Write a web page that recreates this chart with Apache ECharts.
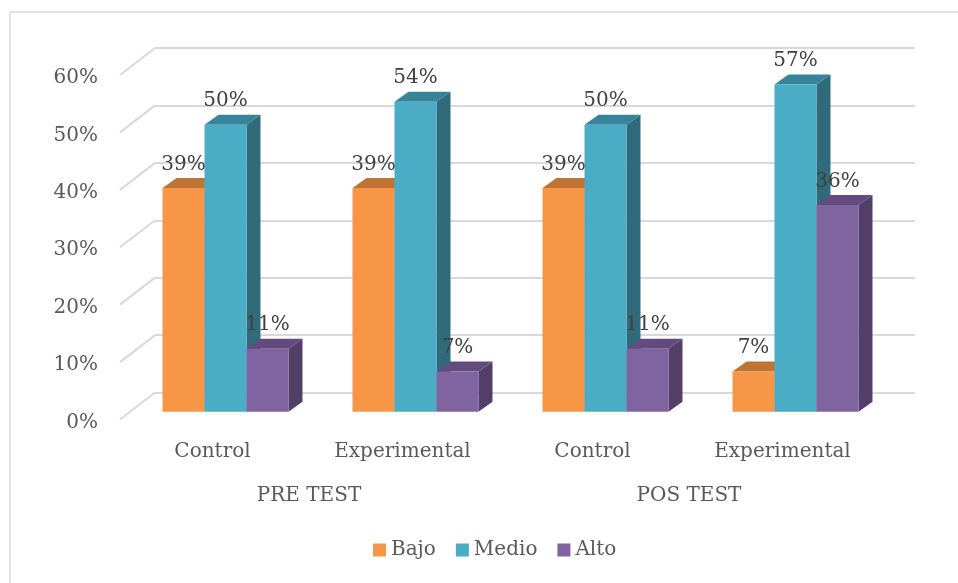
<!DOCTYPE html>
<html><head><meta charset="utf-8">
<script src="https://cdn.jsdelivr.net/npm/echarts@6/dist/echarts.min.js"></script>
<style>html,body{margin:0;padding:0;background:#fff}#chart{width:958px;height:583px}</style>
</head><body><div id="chart"></div>
<script>
// Groups, test phases and levels
const categories = ['Control', 'Experimental', 'Control', 'Experimental'];
const phases = ['PRE TEST', 'POS TEST'];
const levels = ['Bajo', 'Medio', 'Alto'];
// Share of students per level
const bajo = [0.39, 0.39, 0.39, 0.07];
const medio = [0.50, 0.54, 0.50, 0.57];
const alto = [0.11, 0.07, 0.11, 0.36];
const yTicks = [0, 0.1, 0.2, 0.3, 0.4, 0.5, 0.6];

const FONT = 'DejaVu Serif';
const faces = [
  { front: '#F79646', top: '#BE7434', side: '#A9622A' },
  { front: '#4BACC6', top: '#37849A', side: '#306B7B' },
  { front: '#8064A2', top: '#634B7F', side: '#523F68' }
];
// bars stand in front of the back wall; depth gives the 3D look
const FRONT_DX = -24.5, FRONT_DY = 19.3;
const DEPTH_DX = 14, DEPTH_DY = -10;
const FLOOR_DX = -35, FLOOR_DY = 27;
const BAR_RATIO = 0.221;

function pct(v) { return Math.round(v * 100) + '%'; }

function barGeom(api, cat, v, idx) {
  const band = api.size([1, 0])[0];
  const w = band * BAR_RATIO;
  const top = api.coord([cat, v]);
  const base = api.coord([cat, 0]);
  const x0 = top[0] + FRONT_DX - 1.5 * w + idx * w;
  return { x0: x0, w: w, yTop: top[1] + FRONT_DY, yBase: base[1] + FRONT_DY };
}

function makeBarRender(idx) {
  return function (params, api) {
    const cat = api.value(0), v = api.value(1);
    const g = barGeom(api, cat, v, idx);
    const c = faces[idx];
    const x1 = g.x0 + g.w;
    return {
      type: 'group',
      children: [
        { type: 'polygon', shape: { points: [[x1, g.yTop], [x1 + DEPTH_DX, g.yTop + DEPTH_DY], [x1 + DEPTH_DX, g.yBase + DEPTH_DY], [x1, g.yBase]] }, style: { fill: c.side } },
        { type: 'polygon', shape: { points: [[g.x0, g.yTop], [g.x0 + DEPTH_DX, g.yTop + DEPTH_DY], [x1 + DEPTH_DX, g.yTop + DEPTH_DY], [x1, g.yTop]] }, style: { fill: c.top } },
        { type: 'rect', shape: { x: g.x0, y: g.yTop, width: g.w, height: g.yBase - g.yTop }, style: { fill: c.front } }
      ]
    };
  };
}

const seriesValues = [bajo, medio, alto];

const barSeries = levels.map(function (name, idx) {
  return {
    name: name,
    type: 'custom',
    z: 3,
    itemStyle: { color: faces[idx].front },
    renderItem: makeBarRender(idx),
    data: seriesValues[idx].map(function (v, i) { return [i, v]; })
  };
});

// floor lines running from the back wall toward the viewer, with the
// percentage tick label at the front end of each line
const wallSeries = {
  name: 'wall',
  type: 'custom',
  z: 1,
  silent: true,
  renderItem: function (params, api) {
    const v = api.value(1);
    const p = api.coord([0, v]);
    const x = params.coordSys.x;
    return {
      type: 'group',
      children: [
        {
          type: 'line',
          shape: { x1: x, y1: p[1], x2: x + FLOOR_DX, y2: p[1] + FLOOR_DY },
          style: { stroke: '#d9d9d9', lineWidth: 2 }
        },
        {
          type: 'text',
          x: x + FLOOR_DX - 22,
          y: p[1] + FLOOR_DY + 3,
          style: {
            text: pct(v),
            font: '20px "' + FONT + '"',
            fill: '#595959',
            align: 'right', verticalAlign: 'middle',
            textAlign: 'right', textVerticalAlign: 'middle'
          }
        }
      ]
    };
  },
  data: yTicks.map(function (v) { return [0, v]; })
};

// value labels drawn above every bar
const labelData = [];
seriesValues.forEach(function (vals, idx) {
  vals.forEach(function (v, i) { labelData.push([i, v, idx]); });
});
const labelSeries = {
  name: 'labels',
  type: 'custom',
  z: 10,
  silent: true,
  renderItem: function (params, api) {
    const g = barGeom(api, api.value(0), api.value(1), api.value(2));
    return {
      type: 'text',
      x: g.x0 + g.w / 2,
      y: g.yTop - 23.5,
      style: {
        text: pct(api.value(1)),
        font: '20px "' + FONT + '"',
        fill: '#404040',
        align: 'center', verticalAlign: 'middle',
        textAlign: 'center', textVerticalAlign: 'middle'
      }
    };
  },
  data: labelData
};

const chart = echarts.init(document.getElementById('chart'), null, { renderer: 'canvas' });
chart.setOption({
  animation: false,
  backgroundColor: '#ffffff',
  graphic: [
    { type: 'line', shape: { x1: 10, y1: 12, x2: 960, y2: 12 }, style: { stroke: '#d9d9d9', lineWidth: 1.5 } },
    { type: 'line', shape: { x1: 10, y1: 12, x2: 10, y2: 590 }, style: { stroke: '#d9d9d9', lineWidth: 1.5 } }
  ],
  grid: { left: 155, right: 43, top: 48, bottom: 190.5 },
  legend: {
    data: levels,
    left: 373,
    top: 540,
    padding: 0,
    icon: 'rect',
    itemWidth: 13,
    itemHeight: 13,
    itemGap: 20,
    textStyle: { fontFamily: FONT, fontSize: 20, color: '#595959' }
  },
  xAxis: [
    {
      type: 'category', data: categories,
      axisLine: { show: false }, axisTick: { show: false },
      axisLabel: { interval: 0, margin: 49, padding: [0, 75, 0, 0], fontFamily: FONT, fontSize: 20, color: '#595959' }
    },
    {
      type: 'category', data: phases, position: 'bottom', offset: 44,
      axisLine: { show: false }, axisTick: { show: false },
      axisLabel: { interval: 0, margin: 49, padding: [0, 72, 0, 0], fontFamily: FONT, fontSize: 20, color: '#595959' }
    }
  ],
  yAxis: {
    type: 'value', min: 0, max: 0.6, interval: 0.1,
    axisLine: { show: false }, axisTick: { show: false },
    splitLine: { lineStyle: { color: '#d9d9d9', width: 2 } },
    axisLabel: { show: false }
  },
  series: [wallSeries].concat(barSeries, [labelSeries])
});
</script>
</body></html>
